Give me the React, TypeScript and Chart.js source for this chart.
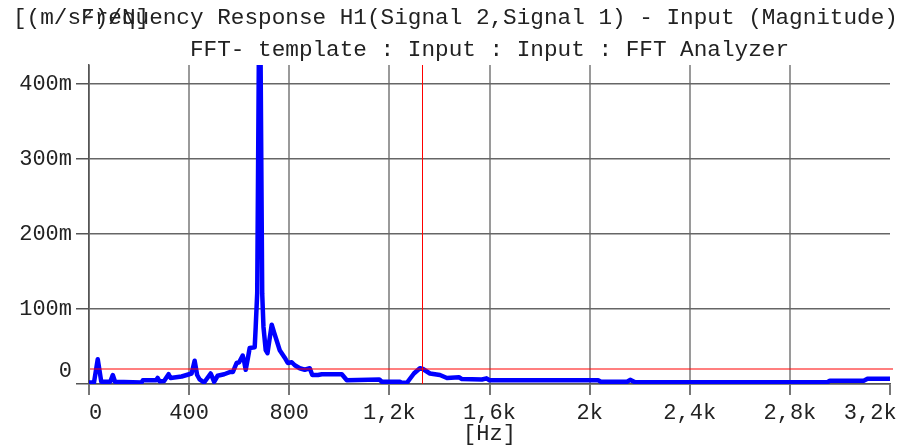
import { useEffect, useRef } from 'react';
import { Chart, registerables } from 'chart.js';

Chart.register(...registerables);

const TITLE = 'Frequency Response H1(Signal 2,Signal 1) - Input (Magnitude)';
const SUBTITLE = 'FFT- template : Input : Input : FFT Analyzer';
const Y_UNIT = '[(m/s²)/N]';
const X_UNIT = '[Hz]';

// Frequency axis (Hz)
const freqHz = [
  0, 20, 35, 49, 85, 95, 104, 210, 215, 268, 274, 282, 300, 318, 326, 370, 410, 422, 432, 442,
  460, 486, 500, 514, 540, 565, 575, 590, 600, 614, 620, 626, 635, 642, 662, 666, 672, 682, 692,
  697, 706, 713, 730, 740, 762, 782, 794, 810, 822, 842, 862, 882, 892, 915, 930, 1010, 1030,
  1160, 1170, 1242, 1250, 1270, 1280, 1298, 1322, 1334, 1362, 1402, 1430, 1478, 1490, 1570,
  1588, 1600, 2034, 2045, 2150, 2162, 2182, 2950, 2960, 3095, 3110, 3200,
];
// Magnitude in milli-units ((m/s²)/N × 1e-3)
const magnitudeMilli = [
  2, 2, 33, 3, 3, 12, 3, 2, 5, 5, 8, 3.5, 4, 13, 8, 10, 14, 31, 12, 6,
  2, 14, 3, 11, 13, 16, 16, 28, 29, 38, 30, 19, 35, 48, 49, 76, 121, 600, 120,
  76, 45, 41, 79, 68, 45, 35, 28, 29, 25, 21, 19, 21, 12, 12, 13, 13, 5,
  6, 3, 3, 1.5, 1.5, 6, 14, 21, 20, 14, 12, 8, 9, 6.5, 6,
  7.5, 5, 5, 3, 3, 5.5, 2.3, 2.3, 4.4, 4.4, 7, 7,
];

const xTickValues = [0, 400, 800, 1200, 1600, 2000, 2400, 2800, 3200];
const xTickLabels = ['0', '400', '800', '1,2k', '1,6k', '2k', '2,4k', '2,8k', '3,2k'];
const yTickValues = [0, 0.1, 0.2, 0.3, 0.4];
const yTickLabels = ['0', '100m', '200m', '300m', '400m'];

const X_MIN = 0;
const X_MAX = 3200;
const Y_MIN = 0;
const Y_MAX = 0.425;

const cursorHz = 1330;
const cursorLevel = 0.02;

const FONT = "'Liberation Mono', 'Courier New', monospace";
const TEXT_COLOR = '#222';

export default function App() {
  const canvasRef = useRef<HTMLCanvasElement | null>(null);

  useEffect(() => {
    const canvas = canvasRef.current;
    if (!canvas) return;

    const points = freqHz.map((f, i) => ({ x: f, y: magnitudeMilli[i] / 1000 }));

    const textPlugin = {
      id: 'texts',
      afterDraw(chart: any) {
        const { ctx, chartArea, scales } = chart;
        const cx = (chartArea.left + chartArea.right) / 2;
        ctx.save();
        // cursor horizontal level line
        const yPix = scales.y.getPixelForValue(cursorLevel);
        ctx.strokeStyle = '#ff0000';
        ctx.lineWidth = 1.2;
        ctx.beginPath();
        ctx.moveTo(chartArea.left + 1, yPix);
        ctx.lineTo(chartArea.right + 3, yPix);
        ctx.stroke();

        ctx.fillStyle = TEXT_COLOR;
        ctx.font = `22.7px ${FONT}`;
        ctx.textBaseline = 'alphabetic';
        ctx.textAlign = 'left';
        ctx.fillText(Y_UNIT, 13, 23.5);
        ctx.textAlign = 'center';
        ctx.fillText(TITLE, cx, 23.5);
        ctx.fillText(SUBTITLE, cx, 55.5);
        ctx.font = `22px ${FONT}`;
        ctx.fillText(X_UNIT, cx, 440);
        ctx.restore();
      },
    };

    const cursorPlugin = {
      id: 'cursor',
      afterDatasetsDraw(chart: any) {
        const { ctx, chartArea, scales } = chart;
        const x = Math.round(scales.x.getPixelForValue(cursorHz));
        ctx.save();
        ctx.fillStyle = '#ff0000';
        ctx.fillRect(x, chartArea.top, 1, chartArea.bottom - chartArea.top);
        ctx.restore();
      },
    };

    const chart = new Chart(canvas, {
      type: 'line',
      data: {
        datasets: [
          {
            data: points,
            borderColor: '#0000ff',
            borderWidth: 4.5,
            pointRadius: 0,
            tension: 0,
            borderJoinStyle: 'round',
            borderCapStyle: 'round',
            fill: false,
          },
        ],
      },
      options: {
        responsive: false,
        animation: false,
        events: [],
        layout: { padding: { top: 65, right: 13, left: 0, bottom: 0 } },
        plugins: {
          legend: { display: false },
          title: { display: false },
          tooltip: { enabled: false },
        },
        scales: {
          x: {
            type: 'linear',
            min: X_MIN,
            max: X_MAX,
            afterBuildTicks: (scale: any) => {
              scale.ticks = xTickValues.map((v) => ({ value: v }));
            },
            afterFit: (scale: any) => {
              scale.height = 62;
              scale.paddingLeft = 0;
              scale.paddingRight = 0;
            },
            ticks: {
              autoSkip: false,
              maxRotation: 0,
              padding: 5,
              color: TEXT_COLOR,
              font: { family: FONT, size: 22 },
              callback: (v: any) => {
                const i = xTickValues.indexOf(Number(v));
                if (i < 0) return '';
                if (i === 0) return ' ' + xTickLabels[i];
                if (i === xTickValues.length - 1) return xTickLabels[i] + '   ';
                return xTickLabels[i];
              },
            },
            grid: {
              color: (c: any) => (c.tick && c.tick.value === X_MAX ? 'rgba(0,0,0,0)' : '#9a9a9a'),
              tickColor: '#777',
              lineWidth: 2,
              tickLength: 11,
            },
            border: { color: '#555', width: 1.5 },
          },
          y: {
            type: 'linear',
            min: Y_MIN,
            max: Y_MAX,
            afterBuildTicks: (scale: any) => {
              scale.ticks = yTickValues.map((v) => ({ value: v }));
            },
            afterFit: (scale: any) => {
              scale.width = 89;
            },
            ticks: {
              autoSkip: false,
              padding: 4,
              color: TEXT_COLOR,
              font: { family: FONT, size: 22 },
              callback: (v: any) => {
                const i = yTickValues.findIndex((t) => Math.abs(t - Number(v)) < 1e-9);
                if (i < 0) return '';
                return i === 0 ? [yTickLabels[0], ''] : yTickLabels[i];
              },
            },
            grid: {
              color: '#666',
              tickColor: '#555',
              lineWidth: 1.5,
              tickLength: 13,
            },
            border: { color: '#555', width: 1.5 },
          },
        },
      },
      plugins: [cursorPlugin, textPlugin],
    } as any);

    return () => chart.destroy();
  }, []);

  return (
    <canvas
      ref={canvasRef}
      width={903}
      height={446}
      style={{ position: 'absolute', left: 0, top: 0, width: 903, height: 446 }}
    />
  );
}
